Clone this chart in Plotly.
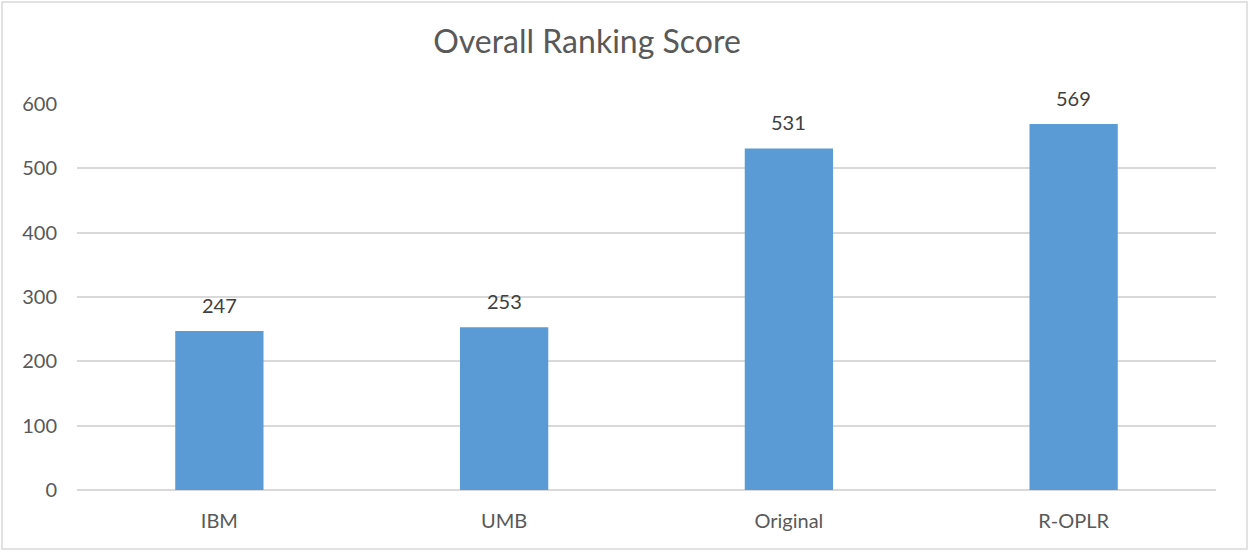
import plotly.graph_objects as go

categories = ["IBM", "UMB", "Original", "R-OPLR"]
scores = [247, 253, 531, 569]
y_ticks = [0, 100, 200, 300, 400, 500, 600]

L, R, T, B = 77, 33, 104, 62
W, H = 1249, 552
pw, ph = W - L - R, H - T - B
FONT = "Lato, Open Sans, sans-serif"
GRAY = "#595959"

fig = go.Figure(go.Bar(
    x=categories, y=scores,
    marker=dict(color="#5B9BD5", line=dict(width=0)),
    hoverinfo="x+y",
))

for c, v in zip(categories, scores):
    fig.add_annotation(x=c, y=v, text=str(v), showarrow=False,
                       yanchor="bottom", yshift=12,
                       font=dict(size=20, color="#404040", family=FONT))

fig.update_layout(
    width=W, height=H,
    margin=dict(l=L, r=R, t=T, b=B),
    paper_bgcolor="white", plot_bgcolor="white",
    font=dict(family=FONT, color=GRAY, size=20),
    title=dict(text="Overall Ranking Score", x=587 / W, xanchor="center",
               y=1 - 42 / H, yanchor="middle",
               font=dict(size=32, color=GRAY)),
    bargap=0.69,
    showlegend=False,
    xaxis=dict(showgrid=False, showline=False, ticks="", ticklabelstandoff=17,
               tickfont=dict(size=20, color=GRAY)),
    yaxis=dict(range=[0, 600], tickvals=y_ticks, showgrid=True, gridcolor="#D9D9D9", gridwidth=1.5,
               zeroline=True, zerolinecolor="#D9D9D9", zerolinewidth=1.5, showline=False,
               ticks="", ticklabelstandoff=19, tickfont=dict(size=20, color=GRAY)),
    shapes=[dict(type="rect", xref="paper", yref="paper",
                 x0=(2 - L) / pw, x1=(1247 - L) / pw,
                 y0=(H - B - 549) / ph, y1=(H - B - 2) / ph,
                 line=dict(color="#D9D9D9", width=1.5), fillcolor="rgba(0,0,0,0)", layer="below")],
)

fig.write_html("out.html", config={"displayModeBar": False},
               post_script="document.body.style.margin='0';document.body.style.overflow='hidden';")
